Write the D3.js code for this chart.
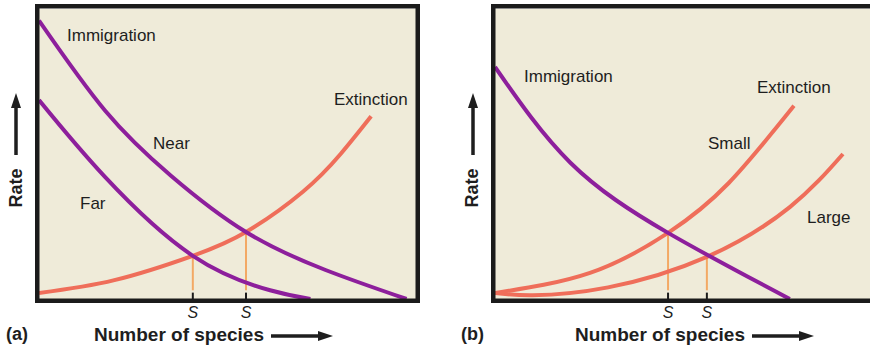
<!DOCTYPE html>
<html>
<head>
<meta charset="utf-8">
<script src="https://d3js.org/d3.v7.min.js"></script>
<style>
  html, body { margin: 0; padding: 0; background: #ffffff; }
  svg { display: block; font-family: "Liberation Sans", Arial, sans-serif; }
</style>
</head>
<body>
<svg id="chart" width="870" height="350"></svg>
<script>
// ---------- DATA (x: number of species, y: rate; arbitrary 0-100 units) ----------
// Panel (a): distance from mainland
const nearImmigration = [[0,96],[17.5,65],[35,42.5],[54.9,23.1],[76,10],[97.5,0]];
const farImmigration  = [[0,68.6],[17.5,42.1],[40.8,14.9],[61.3,3],[72,0]];
const extinctionA     = [[0,2.1],[20,6.5],[40.8,14.9],[54.9,23.1],[70,37],[80,50],[88.1,63]];
const equilibriumA    = [40.8, 54.9];           // S (far), S (near)
const equilibriumRateA = [14.9, 23.1];
const labelsA = ["Immigration", "Near", "Far", "Extinction"];

// Panel (b): island size
const immigrationB    = [[0,80],[20,47],[45.9,22.8],[78.2,0]];
const smallExtinction = [[0,2.1],[25.2,9],[45.9,22.8],[62,40],[79.3,66.6]];
const largeExtinction = [[0,2.1],[10,1.3],[30,4],[56.2,14.5],[78.2,31.7],[92.3,50]];
const equilibriumB    = [45.9, 56.2];           // S (small), S (large)
const equilibriumRateB = [22.8, 14.5];
const labelsB = ["Immigration", "Extinction", "Small", "Large"];

const panelTags = ["(a)", "(b)"];
const xTitle = "Number of species";
const yTitle = "Rate";
const sLabel = "S";

// ---------- STYLE ----------
const C = {
  bg: "#efebd9", frame: "#1b1b1b", purple: "#8d1f9c", red: "#ef6e5a",
  drop: "#f3a965", text: "#1e1e1e"
};

const svg = d3.select("#chart");
const defs = svg.append("defs");

function arrowPath(x1, y1, x2, y2, head, half) {
  const dx = x2 - x1, dy = y2 - y1, L = Math.hypot(dx, dy);
  const ux = dx / L, uy = dy / L, px = -uy, py = ux;
  const bx = x2 - ux * head, by = y2 - uy * head;
  return { shaft: [[x1, y1], [bx + ux * 2, by + uy * 2]],
           head: [[x2, y2], [bx + px * half, by + py * half], [bx - px * half, by - py * half]] };
}

function drawPanel(cfg) {
  const g = svg.append("g");
  const x = d3.scaleLinear().domain([0, 100]).range([cfg.left + 4, cfg.left + 4 + 377]);
  const y = d3.scaleLinear().domain([0, 100]).range([299, 9]);

  const clipId = "clip" + cfg.id;
  defs.append("clipPath").attr("id", clipId).append("rect")
    .attr("x", x(0)).attr("y", y(100)).attr("width", x(100) - x(0)).attr("height", y(0) - y(100));
  g.append("rect").attr("x", x(0)).attr("y", y(100))
    .attr("width", x(100) - x(0)).attr("height", y(0) - y(100)).attr("fill", C.bg);

  const plot = g.append("g").attr("clip-path", `url(#${clipId})`);
  const line = d3.line().x(d => x(d[0])).y(d => y(d[1])).curve(d3.curveNatural);

  // drop lines to equilibrium S
  cfg.eq.forEach((s, i) => {
    plot.append("line").attr("x1", x(s)).attr("x2", x(s))
      .attr("y1", y(cfg.eqY[i])).attr("y2", y(3))
      .attr("stroke", C.drop).attr("stroke-width", 2);
  });

  // curves
  cfg.curves.forEach(c => {
    plot.append("path").datum(c.data).attr("d", line)
      .attr("fill", "none").attr("stroke", c.color).attr("stroke-width", 4)
      .attr("stroke-linecap", "butt");
  });

  // ticks at S
  cfg.eq.forEach(s => {
    g.append("line").attr("x1", x(s)).attr("x2", x(s))
      .attr("y1", y(2.2)).attr("y2", y(0))
      .attr("stroke", C.frame).attr("stroke-width", 2);
    g.append("text").attr("x", x(s)).attr("y", 318)
      .attr("text-anchor", "middle").attr("font-style", "italic")
      .attr("font-size", 16).attr("fill", C.text).text(sLabel);
  });

  // frame
  g.append("rect").attr("x", x(0) - 1.75).attr("y", y(100) - 2.75)
    .attr("width", x(100) - x(0) + 3.5).attr("height", y(0) - y(100) + 4.5)
    .attr("fill", "none").attr("stroke", C.frame).attr("stroke-width", 4.5);

  // curve labels
  cfg.labels.forEach(l => {
    g.append("text").attr("x", l.x).attr("y", l.y)
      .attr("font-size", 17).attr("fill", C.text).text(l.t);
  });

  // y title + arrow
  g.append("text").attr("transform", `translate(${cfg.rateX},188) rotate(-90)`)
    .attr("text-anchor", "middle").attr("font-weight", "bold")
    .attr("font-size", 18).attr("fill", C.text).text(yTitle);
  const ay = arrowPath(cfg.arrowX, 155, cfg.arrowX, 93, 15, 5);
  g.append("path").attr("d", d3.line()(ay.shaft)).attr("stroke", C.text).attr("stroke-width", 3.5);
  g.append("path").attr("d", d3.line()(ay.head) + "Z").attr("fill", C.text);

  // x title + arrow, panel tag
  g.append("text").attr("x", cfg.tagX).attr("y", 340)
    .attr("font-weight", "bold").attr("font-size", 18).attr("fill", C.text).text(cfg.tag);
  g.append("text").attr("x", cfg.titleX).attr("y", 341)
    .attr("font-weight", "bold").attr("font-size", 19).attr("fill", C.text).text(xTitle);
  const ax = arrowPath(cfg.titleX + 177, 336, cfg.titleX + 239, 336, 15, 5);
  g.append("path").attr("d", d3.line()(ax.shaft)).attr("stroke", C.text).attr("stroke-width", 3.5);
  g.append("path").attr("d", d3.line()(ax.head) + "Z").attr("fill", C.text);
}

drawPanel({
  id: "a", left: 35, tag: panelTags[0], tagX: 6, titleX: 94, rateX: 22, arrowX: 16,
  eq: equilibriumA, eqY: equilibriumRateA,
  curves: [
    { data: extinctionA, color: C.red },
    { data: farImmigration, color: C.purple },
    { data: nearImmigration, color: C.purple }
  ],
  labels: [
    { t: labelsA[0], x: 67, y: 41 },
    { t: labelsA[1], x: 153, y: 149 },
    { t: labelsA[2], x: 80, y: 209 },
    { t: labelsA[3], x: 334, y: 105 }
  ]
});

drawPanel({
  id: "b", left: 491, tag: panelTags[1], tagX: 461, titleX: 575, rateX: 478, arrowX: 473,
  eq: equilibriumB, eqY: equilibriumRateB,
  curves: [
    { data: largeExtinction, color: C.red },
    { data: smallExtinction, color: C.red },
    { data: immigrationB, color: C.purple }
  ],
  labels: [
    { t: labelsB[0], x: 524, y: 82 },
    { t: labelsB[1], x: 757, y: 93 },
    { t: labelsB[2], x: 708, y: 149 },
    { t: labelsB[3], x: 807, y: 223 }
  ]
});
</script>
</body>
</html>
